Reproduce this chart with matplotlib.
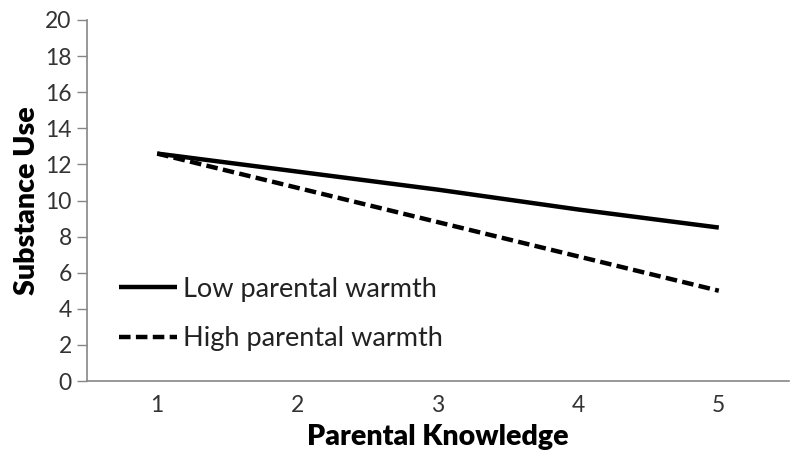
import matplotlib
matplotlib.use("Agg")
import matplotlib.pyplot as plt

x_labels = ["1", "2", "3", "4", "5"]
low_warmth = [12.6, 11.6, 10.6, 9.5, 8.5]
high_warmth = [12.6, 10.7, 8.8, 6.9, 5.0]
y_ticks = [0, 2, 4, 6, 8, 10, 12, 14, 16, 18, 20]

plt.rcParams['font.family'] = ['Lato', 'DejaVu Sans']

fig = plt.figure(figsize=(8, 4.66), dpi=100)
ax = fig.add_axes([87/800, 1-381/466, (789-87)/800, (381-20)/466])

xs = list(range(1, len(x_labels) + 1))
ax.plot(xs, low_warmth, color='black', lw=3.2, solid_capstyle='butt', label='Low parental warmth')
ax.plot(xs, high_warmth, color='black', lw=3.2, ls=(0, (2.6, 1.2)), dash_capstyle='butt', label='High parental warmth')

ax.set_xlim(0.5, 5.5)
ax.set_ylim(0, 20)
ax.set_xticks(xs)
ax.set_xticklabels(x_labels)
ax.set_yticks(y_ticks)
ax.tick_params(axis='x', length=0, pad=10, labelsize=16.5, colors='#333333')
ax.tick_params(axis='y', length=7, width=1, color='#868686', pad=4, labelsize=16.5, labelcolor='#333333')
for s in ['top', 'right']:
    ax.spines[s].set_visible(False)
for s in ['left', 'bottom']:
    ax.spines[s].set_color('#868686')
    ax.spines[s].set_linewidth(1.2)

ax.set_xlabel('Parental Knowledge', fontsize=20.5, fontweight='heavy', labelpad=6)
ax.set_ylabel('Substance Use', fontsize=20.5, fontweight='heavy', labelpad=4)

leg = ax.legend(loc='lower left', bbox_to_anchor=(0.03, 0.053), frameon=False, fontsize=19.5,
                handlelength=2.15, handletextpad=0.2, labelspacing=0.9, labelcolor='#222222',
                borderaxespad=0)

fig.savefig('out.png', dpi=100)
